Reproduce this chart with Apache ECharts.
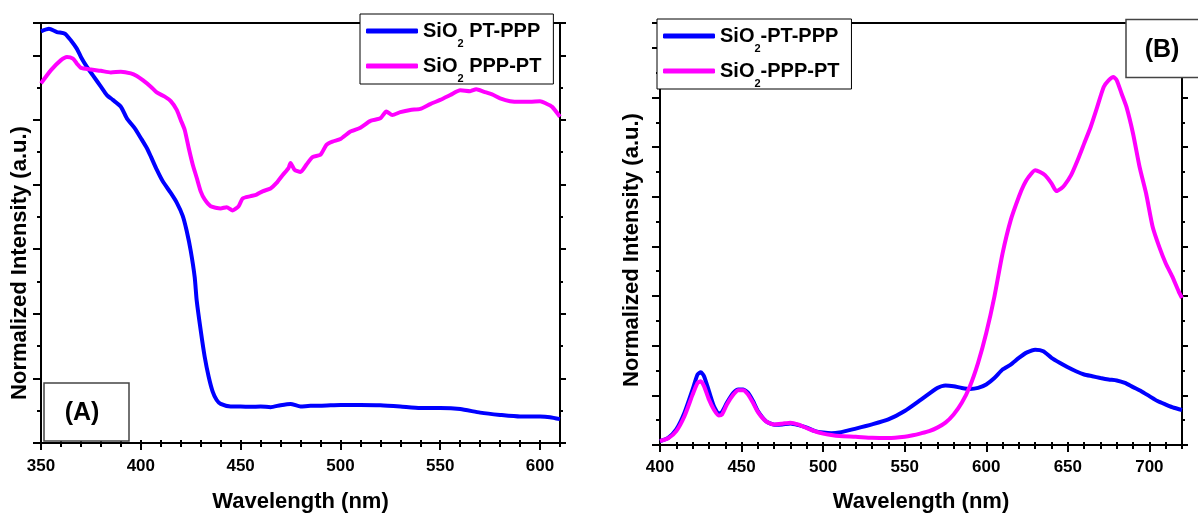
<!DOCTYPE html>
<html>
<head>
<meta charset="utf-8">
<title>SiO2 PT-PPP / PPP-PT spectra</title>
<script src="https://cdn.jsdelivr.net/npm/echarts@6/dist/echarts.min.js"></script>
<style>
  html, body { margin: 0; padding: 0; background: #fff; }
  #main { width: 1198px; height: 515px; }
</style>
</head>
<body>
<div id="main"></div>
<script>
// panel (A): normalized intensity vs wavelength
const aWaveBlue = [350, 354, 358, 362, 365, 368, 370, 373, 376, 380, 383, 386, 390, 393, 397, 400, 403, 405, 408, 411,
  415, 418, 421, 423, 425, 427, 428, 430, 432, 434, 436, 438, 440, 445, 450, 455, 460, 465, 470, 475,
  480, 485, 490, 500, 510, 520, 530, 540, 550, 560, 570, 580, 590, 600, 605, 610]
const aBlue = [1.274, 1.282, 1.272, 1.267, 1.246, 1.22, 1.195, 1.164, 1.138, 1.103, 1.077, 1.062, 1.041, 1.005, 0.974, 0.944, 0.913, 0.887, 0.846, 0.81,
  0.774, 0.744, 0.703, 0.656, 0.595, 0.513, 0.441, 0.349, 0.267, 0.205, 0.159, 0.133, 0.121, 0.113, 0.113, 0.112, 0.113, 0.111, 0.117, 0.121,
  0.113, 0.115, 0.115, 0.118, 0.118, 0.117, 0.113, 0.108, 0.108, 0.105, 0.094, 0.087, 0.082, 0.082, 0.08, 0.074]
const aWavePink = [350, 355, 360, 363, 366, 368, 370, 375, 380, 385, 390, 395, 398, 401, 405, 408, 412, 415, 418, 420,
  422, 424, 426, 428, 430, 432, 435, 440, 443, 446, 449, 451, 455, 458, 461, 465, 468, 471, 474, 475,
  477, 480, 483, 486, 490, 493, 496, 500, 505, 510, 515, 520, 523, 526, 530, 535, 540, 545, 550, 555,
  560, 565, 568, 572, 576, 580, 585, 590, 595, 600, 603, 606, 610]
const aPink = [1.113, 1.154, 1.185, 1.195, 1.19, 1.174, 1.161, 1.156, 1.152, 1.147, 1.149, 1.144, 1.136, 1.123, 1.103, 1.085, 1.072, 1.058, 1.031, 1.0,
  0.969, 0.913, 0.862, 0.821, 0.779, 0.754, 0.733, 0.726, 0.73, 0.72, 0.733, 0.757, 0.764, 0.769, 0.779, 0.788, 0.805, 0.829, 0.851, 0.867,
  0.846, 0.839, 0.862, 0.885, 0.892, 0.923, 0.933, 0.941, 0.964, 0.976, 0.997, 1.005, 1.026, 1.015, 1.024, 1.031, 1.034, 1.049, 1.062, 1.077,
  1.092, 1.089, 1.095, 1.087, 1.079, 1.067, 1.058, 1.056, 1.056, 1.058, 1.051, 1.041, 1.01]

// panel (B)
const bWaveBlue = [400, 405, 410, 415, 420, 423, 425, 427, 430, 433, 436, 438, 441, 445, 448, 451, 454, 457, 460, 465,
  470, 475, 480, 485, 490, 495, 500, 505, 510, 520, 530, 540, 550, 560, 570, 575, 580, 585, 590, 595,
  600, 605, 610, 615, 620, 625, 630, 635, 640, 645, 650, 655, 660, 665, 670, 675, 680, 685, 690, 695,
  700, 705, 710, 715, 720]
const bBlue = [0.016, 0.029, 0.063, 0.13, 0.224, 0.284, 0.293, 0.277, 0.217, 0.157, 0.126, 0.133, 0.17, 0.21, 0.224, 0.224, 0.21, 0.177, 0.137, 0.096,
  0.082, 0.083, 0.087, 0.08, 0.07, 0.056, 0.05, 0.047, 0.05, 0.066, 0.083, 0.103, 0.137, 0.183, 0.23, 0.24, 0.237, 0.23, 0.226, 0.23,
  0.244, 0.27, 0.304, 0.324, 0.351, 0.373, 0.384, 0.378, 0.351, 0.331, 0.313, 0.297, 0.284, 0.277, 0.27, 0.264, 0.26, 0.25, 0.233, 0.217,
  0.197, 0.177, 0.163, 0.15, 0.141]
const bWavePink = [400, 405, 410, 415, 420, 423, 425, 427, 430, 433, 436, 438, 441, 445, 448, 451, 454, 457, 460, 465,
  470, 475, 480, 485, 490, 495, 500, 505, 510, 520, 530, 540, 550, 555, 560, 565, 570, 575, 580, 585,
  590, 595, 600, 605, 610, 615, 620, 623, 626, 630, 633, 636, 640, 643, 646, 648, 652, 656, 660, 664,
  668, 672, 675, 678, 680, 683, 686, 690, 694, 698, 702, 706, 710, 714, 718, 720]
const bPink = [0.016, 0.027, 0.056, 0.116, 0.203, 0.25, 0.257, 0.237, 0.183, 0.143, 0.119, 0.123, 0.163, 0.203, 0.221, 0.221, 0.203, 0.17, 0.133, 0.095,
  0.083, 0.086, 0.09, 0.082, 0.068, 0.055, 0.046, 0.04, 0.036, 0.033, 0.029, 0.028, 0.033, 0.039, 0.047, 0.056, 0.07, 0.09, 0.123, 0.17,
  0.237, 0.331, 0.451, 0.598, 0.772, 0.906, 1.0, 1.047, 1.08, 1.107, 1.1, 1.087, 1.054, 1.023, 1.034, 1.047, 1.087, 1.147, 1.214, 1.281,
  1.361, 1.442, 1.469, 1.482, 1.469, 1.415, 1.361, 1.254, 1.12, 1.013, 0.879, 0.799, 0.732, 0.679, 0.618, 0.592]

const namesA = ['SiO2 PT-PPP', 'SiO2 PPP-PT']
const namesB = ['SiO2-PT-PPP', 'SiO2-PPP-PT']
const xTitle = 'Wavelength (nm)'
const yTitle = 'Normalized Intensity (a.u.)'

const FONT = '"Liberation Sans", Arial, sans-serif'
const BLUE = '#0000ff'
const PINK = '#ff00ff'

const zip = (xs, ys) => xs.map((x, i) => [x, ys[i]])

// axis that only draws ticks (line drawn by the grid border)
function tickAxis (gridIndex, min, max, interval, position, len) {
  return {
    type: 'value', gridIndex, min, max, interval, position,
    axisLine: { show: false },
    axisTick: { show: true, length: len, lineStyle: { color: '#000', width: 2 } },
    axisLabel: { show: false },
    splitLine: { show: false }
  }
}

function mainX (gridIndex, min, max, nameGap, margin) {
  return {
    type: 'value', gridIndex, min, max, interval: 50, position: 'bottom',
    name: xTitle, nameLocation: 'middle', nameGap,
    nameTextStyle: { fontFamily: FONT, fontWeight: 'bold', fontSize: 22, color: '#000' },
    axisLine: { show: true, lineStyle: { color: '#000', width: 2 } },
    axisTick: { show: true, length: 7, lineStyle: { color: '#000', width: 2 } },
    axisLabel: { show: true, margin, showMaxLabel: false, fontFamily: FONT, fontWeight: 'bold', fontSize: 17, color: '#000' },
    splitLine: { show: false }
  }
}

function legendFor (names, left, top) {
  return {
    data: names, left, top, orient: 'vertical',
    selectedMode: false,
    backgroundColor: '#fff', borderColor: '#000', borderWidth: 1,
    padding: [0, 12, 0, 6], itemGap: 0,
    icon: 'roundRect', itemWidth: 52, itemHeight: 5,
    formatter: n => n.replace('SiO2', '{n|SiO}{s|2}{n|') + '}',
    textStyle: {
      rich: {
        n: { fontFamily: FONT, fontWeight: 'bold', fontSize: 20, color: '#000', lineHeight: 34 },
        s: { fontFamily: FONT, fontWeight: 'bold', fontSize: 11, color: '#000', lineHeight: 10, padding: [24, 0, 0, 0], verticalAlign: 'top' }
      }
    }
  }
}

function line (name, data, xi, yi, color) {
  return {
    type: 'line', name, data, xAxisIndex: xi, yAxisIndex: yi,
    showSymbol: false, smooth: 0.2, color,
    lineStyle: { color, width: 4 }
  }
}

const option = {
  backgroundColor: '#fff',
  animation: false,
  grid: [
    { left: 41, top: 23, width: 519, height: 420, outerBoundsMode: 'none', show: true, borderColor: '#000', borderWidth: 2 },
    { left: 660, top: 23, width: 522, height: 422, outerBoundsMode: 'none', show: true, borderColor: '#000', borderWidth: 2 }
  ],
  xAxis: [
    mainX(0, 350, 610, 48, 15),
    tickAxis(0, 350, 610, 10, 'bottom', 4),
    tickAxis(0, 350, 610, 10, 'top', 3),
    mainX(1, 400, 720, 46, 14),
    tickAxis(1, 400, 720, 10, 'bottom', 4),
    tickAxis(1, 400, 720, 10, 'top', 3)
  ],
  yAxis: [
    tickAxis(0, 0, 1.3, 0.2, 'left', 8),
    tickAxis(0, 0, 1.3, 0.1, 'left', 4),
    tickAxis(0, 0, 1.3, 0.2, 'right', 6),
    tickAxis(0, 0, 1.3, 0.1, 'right', 3),
    tickAxis(1, 0, 1.7, 0.2, 'left', 8),
    tickAxis(1, 0, 1.7, 0.1, 'left', 4),
    tickAxis(1, 0, 1.7, 0.2, 'right', 6),
    tickAxis(1, 0, 1.7, 0.1, 'right', 3)
  ],
  legend: [
    legendFor(namesA, 360, 14),
    legendFor(namesB, 657, 19)
  ],
  series: [
    line(namesA[0], zip(aWaveBlue, aBlue), 0, 0, BLUE),
    line(namesA[1], zip(aWavePink, aPink), 0, 0, PINK),
    line(namesB[0], zip(bWaveBlue, bBlue), 3, 4, BLUE),
    line(namesB[1], zip(bWavePink, bPink), 3, 4, PINK)
  ],
  graphic: [
    {
      type: 'rect', z: 10, shape: { x: 44, y: 383, width: 85, height: 58 },
      style: { fill: '#fff', stroke: '#444', lineWidth: 1.5 }
    },
    {
      type: 'text', z: 11, x: 82, y: 413,
      style: { text: '(A)', font: 'bold 25px ' + FONT, fill: '#000', align: 'center', verticalAlign: 'middle' }
    },
    {
      type: 'rect', z: 10, shape: { x: 1126, y: 19.5, width: 80, height: 58 },
      style: { fill: '#fff', stroke: '#444', lineWidth: 1.5 }
    },
    {
      type: 'text', z: 11, x: 1162, y: 50,
      style: { text: '(B)', font: 'bold 25px ' + FONT, fill: '#000', align: 'center', verticalAlign: 'middle' }
    },
    {
      type: 'text', z: 11, x: 20, y: 263, rotation: Math.PI / 2,
      style: { text: yTitle, font: 'bold 22px ' + FONT, fill: '#000', align: 'center', verticalAlign: 'middle' }
    },
    {
      type: 'text', z: 11, x: 632, y: 250, rotation: Math.PI / 2,
      style: { text: yTitle, font: 'bold 22px ' + FONT, fill: '#000', align: 'center', verticalAlign: 'middle' }
    }
  ]
}

const myChart = echarts.init(document.getElementById('main'))
myChart.setOption(option)
</script>
</body>
</html>
